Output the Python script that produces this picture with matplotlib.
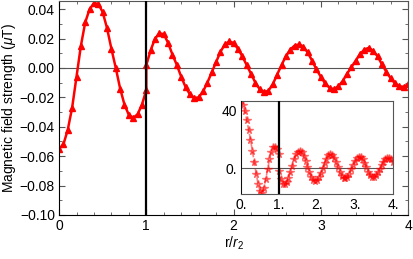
import matplotlib
matplotlib.use("Agg")
import matplotlib.pyplot as plt
import numpy as np

plt.rcParams['font.family'] = ['Liberation Sans', 'DejaVu Sans']
plt.rcParams['mathtext.fontset'] = 'custom'
plt.rcParams['mathtext.it'] = 'Liberation Sans:italic'
plt.rcParams['mathtext.rm'] = 'Liberation Sans'

# main curve (r/r2 vs field in uT); r=1 appears twice (jump)
r_main = [0.00, 0.05, 0.10, 0.15, 0.20, 0.25, 0.30, 0.35, 0.40, 0.45,
          0.50, 0.55, 0.60, 0.65, 0.70, 0.75, 0.80, 0.85, 0.90, 0.95,
          1.00, 1.00, 1.05, 1.10, 1.15, 1.20, 1.25, 1.30, 1.35, 1.40,
          1.45, 1.50, 1.55, 1.60, 1.65, 1.70, 1.75, 1.80, 1.85, 1.90,
          1.95, 2.00, 2.05, 2.10, 2.15, 2.20, 2.25, 2.30, 2.35, 2.40,
          2.45, 2.50, 2.55, 2.60, 2.65, 2.70, 2.75, 2.80, 2.85, 2.90,
          2.95, 3.00, 3.05, 3.10, 3.15, 3.20, 3.25, 3.30, 3.35, 3.40,
          3.45, 3.50, 3.55, 3.60, 3.65, 3.70, 3.75, 3.80, 3.85, 3.90,
          3.95, 4.00]
b_main = [-0.0550, -0.0520, -0.0420, -0.0270, -0.0060, 0.0150, 0.0310, 0.0400, 0.0440, 0.0435,
          0.0380, 0.0270, 0.0130, 0.0000, -0.0140, -0.0250, -0.0320, -0.0340, -0.0315, -0.0250,
          -0.0150, 0.0020, 0.0120, 0.0200, 0.0235, 0.0230, 0.0170, 0.0090, 0.0020, -0.0060,
          -0.0130, -0.0180, -0.0205, -0.0200, -0.0160, -0.0100, -0.0030, 0.0040, 0.0110, 0.0160,
          0.0180, 0.0170, 0.0130, 0.0080, 0.0020, -0.0040, -0.0100, -0.0145, -0.0165, -0.0155,
          -0.0110, -0.0045, 0.0020, 0.0080, 0.0125, 0.0152, 0.0160, 0.0145, 0.0105, 0.0050,
          -0.0010, -0.0060, -0.0105, -0.0135, -0.0145, -0.0125, -0.0090, -0.0040, 0.0005, 0.0050,
          0.0095, 0.0125, 0.0137, 0.0115, 0.0080, 0.0025, -0.0025, -0.0070, -0.0105, -0.0125,
          -0.0128, -0.0112]

# inset curve
r_ins = r_main
b_ins = [48.0, 44.0, 40.0, 34.0, 27.0, 20.0, 12.0, 4.0, -4.0, -11.0,
         -16.0, -17.5, -14.0, -8.0, -1.0, 6.0, 11.5, 14.5, 15.0, 13.0,
         10.0, -2.0, -8.0, -11.0, -11.5, -10.0, -7.0, -3.0, 1.5, 6.0,
         9.5, 11.5, 12.0, 11.0, 8.5, 5.0, 1.0, -3.0, -6.5, -8.5,
         -9.0, -8.5, -6.5, -3.5, 0.0, 3.5, 6.5, 9.0, 9.6, 9.0,
         7.0, 4.0, 0.5, -3.0, -5.5, -7.0, -7.0, -6.0, -4.0, -1.0,
         2.0, 5.0, 7.0, 8.0, 7.5, 6.0, 3.5, 0.5, -2.5, -5.0,
         -6.0, -6.0, -5.0, -3.0, -0.5, 2.0, 4.5, 6.5, 7.2, 7.0,
         6.0, 4.5]

gray = '#555555'

fig = plt.figure(figsize=(4.13, 2.59), dpi=100)
ax = fig.add_axes([0.143, 0.170, 0.845, 0.826])

ax.axhline(0, color=gray, lw=0.8, zorder=1)
ax.plot(r_main, b_main, color='red', lw=1.8, marker='^', ms=4.3,
        mec='red', mfc='red', zorder=2)
ax.axvline(1, color='black', lw=1.6, zorder=3)

ax.set_xlim(0, 4)
ax.set_ylim(-0.10, 0.0455)
ax.set_xticks([0, 1, 2, 3, 4])
ax.set_yticks(np.arange(-0.10, 0.041, 0.02))
ax.set_yticklabels(['\u22120.10', '\u22120.08', '\u22120.06', '\u22120.04',
                    '\u22120.02', '0.00', '0.02', '0.04'])
ax.set_xticks(np.arange(0, 4.01, 0.2), minor=True)
ax.set_yticks(np.arange(-0.10, 0.046, 0.01), minor=True)
ax.tick_params(which='both', direction='in', top=True, right=True,
               color=gray, labelsize=10, pad=3)
ax.tick_params(which='major', length=4)
ax.tick_params(which='minor', length=2)
for s in ax.spines.values():
    s.set_color(gray)
ax.spines['left'].set_color('black')
ax.spines['bottom'].set_color('black')
ax.set_xlabel(r'r/$r_2$', fontsize=10, labelpad=1)
ax.set_ylabel(r'Magnetic field strength ($\mu$T)', fontsize=10, labelpad=1)

# inset
ins = fig.add_axes([0.5835, 0.251, 0.368, 0.359])
ins.axhline(0, color=gray, lw=0.8, zorder=1)
ins.plot(r_ins, b_ins, color='red', lw=1.2, ls='--', marker='*', ms=5.5,
         mec='red', mfc='red', alpha=0.5, zorder=2)
ins.axvline(1, color='black', lw=1.6, zorder=3)
ins.axvline(0, color='black', lw=1.2, zorder=3)
ins.set_xlim(0, 4)
ins.set_ylim(-18.2, 47)
ins.set_xticks([0, 1, 2, 3, 4])
ins.set_xticklabels(['0.', '1.', '2.', '3.', '4.'])
ins.set_yticks([0, 40])
ins.set_yticklabels(['0.', '40'])
ins.tick_params(length=0, labelsize=10, pad=3)
for s in ins.spines.values():
    s.set_color(gray)

fig.savefig('out.png', dpi=100)
